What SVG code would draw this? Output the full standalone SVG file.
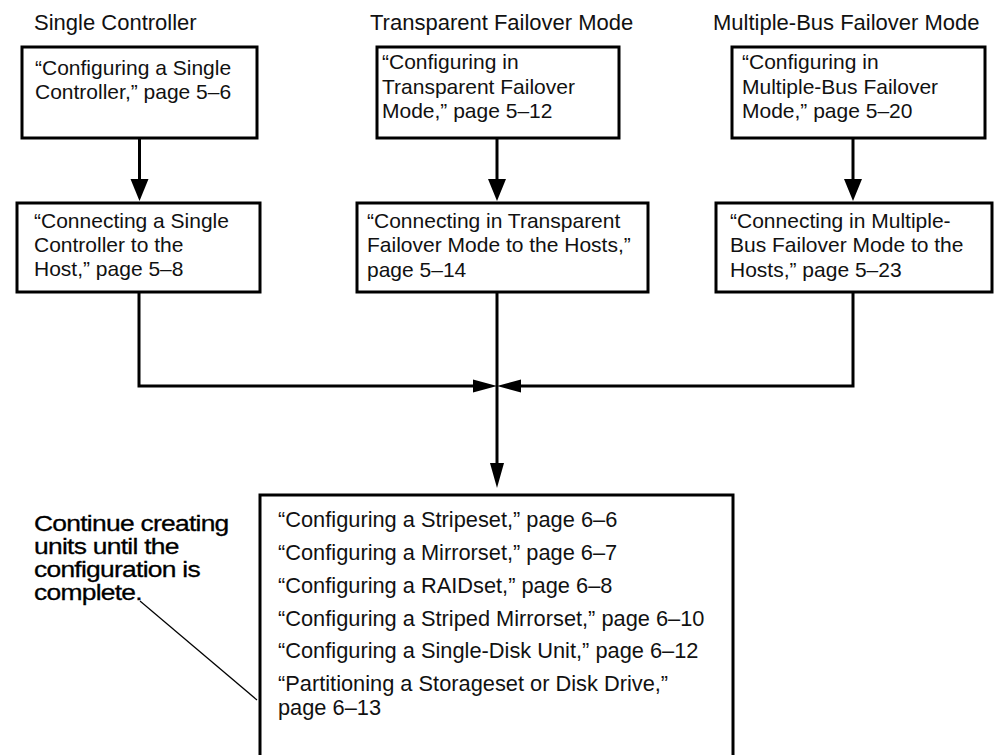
<svg xmlns="http://www.w3.org/2000/svg" width="1002" height="755" viewBox="0 0 1002 755">
  <style>
    .box { fill: #fff; stroke: #000; stroke-width: 3; }
    .t { font-family: "Liberation Sans", Arial, sans-serif; font-size: 21px; fill: #111; }
    .tl { font-family: "Liberation Sans", Arial, sans-serif; font-size: 21.8px; fill: #111; }
    .hd { font-family: "Liberation Sans", Arial, sans-serif; font-size: 22px; fill: #111; }
    .note { font-family: "Liberation Sans", Arial, sans-serif; font-size: 22px; fill: #000; letter-spacing: -0.6px; stroke: #000; stroke-width: 0.3; }
    .wire { fill: none; stroke: #000; stroke-width: 3; }
    .head { fill: #000; }
    .leader { stroke: #000; stroke-width: 1.2; fill: none; }
  </style>
  <rect width="1002" height="755" fill="#fff"/>

  <!-- column headings -->
  <g id="headings">
    <text class="hd" x="34" y="30">Single Controller</text>
    <text class="hd" x="370" y="30">Transparent Failover Mode</text>
    <text class="hd" x="713" y="30" font-size="22.6">Multiple-Bus Failover Mode</text>
  </g>

  <!-- connectors -->
  <g id="connectors">
    <line class="wire" x1="139.5" y1="138" x2="139.5" y2="182"/>
    <polygon class="head" points="130.5,179 148.5,179 139.5,201"/>
    <line class="wire" x1="497" y1="138" x2="497" y2="182"/>
    <polygon class="head" points="488,179 506,179 497,201"/>
    <line class="wire" x1="853" y1="138" x2="853" y2="182"/>
    <polygon class="head" points="844,179 862,179 853,201"/>

    <polyline class="wire" points="139,292 139,386 475,386"/>
    <polygon class="head" points="473,379.5 473,392.5 497,386"/>
    <polyline class="wire" points="853,292 853,386 519,386"/>
    <polygon class="head" points="521,379.5 521,392.5 497,386"/>
    <line class="wire" x1="497" y1="292" x2="497" y2="465"/>
    <polygon class="head" points="490,463 504,463 497,488"/>

    <line class="leader" x1="140" y1="601" x2="257" y2="700"/>
  </g>

  <g id="n-config-single">
    <rect class="box" x="22" y="47" width="235" height="91"/>
    <text class="t" x="35" y="75">“Configuring a Single</text>
    <text class="t" x="35" y="99">Controller,” page 5–6</text>
  </g>

  <g id="n-connect-single">
    <rect class="box" x="17" y="203" width="243" height="89"/>
    <text class="t" x="34" y="228">“Connecting a Single</text>
    <text class="t" x="34" y="252">Controller to the</text>
    <text class="t" x="34" y="276">Host,” page 5–8</text>
  </g>

  <g id="n-config-transparent">
    <rect class="box" x="377" y="47" width="242" height="91"/>
    <text class="t" x="382" y="69">“Configuring in</text>
    <text class="t" x="382" y="94">Transparent Failover</text>
    <text class="t" x="382" y="118">Mode,” page 5–12</text>
  </g>

  <g id="n-connect-transparent">
    <rect class="box" x="357" y="203" width="291" height="89"/>
    <text class="t" x="367" y="228">“Connecting in Transparent</text>
    <text class="t" x="367" y="252">Failover Mode to the Hosts,”</text>
    <text class="t" x="367" y="277">page 5–14</text>
  </g>

  <g id="n-config-multibus">
    <rect class="box" x="732" y="47" width="253" height="91"/>
    <text class="t" x="742" y="69">“Configuring in</text>
    <text class="t" x="742" y="94">Multiple-Bus Failover</text>
    <text class="t" x="742" y="118">Mode,” page 5–20</text>
  </g>

  <g id="n-connect-multibus">
    <rect class="box" x="716" y="203" width="276" height="89"/>
    <text class="t" x="730" y="228">“Connecting in Multiple-</text>
    <text class="t" x="730" y="252">Bus Failover Mode to the</text>
    <text class="t" x="730" y="277">Hosts,” page 5–23</text>
  </g>

  <g id="n-units">
    <rect class="box" x="260" y="495" width="473" height="270"/>
    <text class="tl" x="278" y="527">“Configuring a Stripeset,” page 6–6</text>
    <text class="tl" x="278" y="560">“Configuring a Mirrorset,” page 6–7</text>
    <text class="tl" x="278" y="593">“Configuring a RAIDset,” page 6–8</text>
    <text class="tl" x="278" y="626">“Configuring a Striped Mirrorset,” page 6–10</text>
    <text class="tl" x="278" y="658">“Configuring a Single-Disk Unit,” page 6–12</text>
    <text class="tl" x="278" y="691">“Partitioning a Storageset or Disk Drive,”</text>
    <text class="tl" x="278" y="715">page 6–13</text>
  </g>

  <!-- side note, set in a widened face -->
  <g id="n-note" transform="matrix(1.2 0 0 1 34 0)">
    <text class="note" x="0" y="531">Continue creating</text>
    <text class="note" x="0" y="554">units until the</text>
    <text class="note" x="0" y="577">configuration is</text>
    <text class="note" x="0" y="600">complete.</text>
  </g>
</svg>
